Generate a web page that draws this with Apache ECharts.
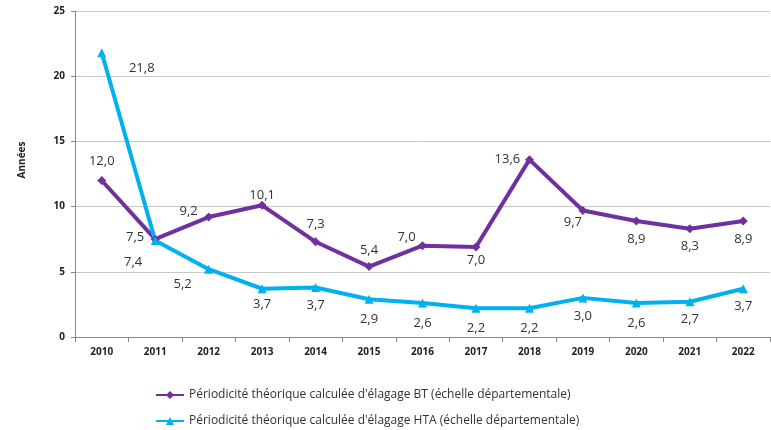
<!DOCTYPE html>
<html>
<head>
<meta charset="utf-8">
<script src="https://cdn.jsdelivr.net/npm/echarts@6/dist/echarts.min.js"></script>
<style>
  html, body { margin: 0; padding: 0; background: #fff; }
  #chart { width: 771px; height: 430px; }
</style>
</head>
<body>
<div id="chart"></div>
<script>
const years = ['2010', '2011', '2012', '2013', '2014', '2015', '2016', '2017', '2018', '2019', '2020', '2021', '2022'];
const btValues = [12.0, 7.5, 9.2, 10.1, 7.3, 5.4, 7.0, 6.9, 13.6, 9.7, 8.9, 8.3, 8.9];
const btLabels = ['12,0', '7,5', '9,2', '10,1', '7,3', '5,4', '7,0', '7,0', '13,6', '9,7', '8,9', '8,3', '8,9'];
const htaValues = [21.8, 7.4, 5.2, 3.7, 3.8, 2.9, 2.6, 2.2, 2.2, 3.0, 2.6, 2.7, 3.7];
const htaLabels = ['21,8', '7,4', '5,2', '3,7', '3,7', '2,9', '2,6', '2,2', '2,2', '3,0', '2,6', '2,7', '3,7'];
const yTicks = [0, 5, 10, 15, 20, 25];

// label placement per point, [dx, dy] offsets
const btOffsets = [[0, -19], [-20, -2], [-20, -6], [0, -10], [0, -18], [0, -16], [-16, -8], [0, 13], [-22, 0], [-10, 12], [0, 18], [0, 18], [0, 18]];
const htaOffsets = [[40, 16], [-22, 22], [-26, 15], [0, 16], [0, 18], [0, 20], [0, 20], [0, 20], [0, 20], [0, 18], [0, 20], [0, 18], [0, 18]];

const chart = echarts.init(document.getElementById('chart'));
const font = '"Open Sans", "Liberation Sans", sans-serif';

function buildData(values, labels, offsets) {
  return values.map((v, i) => ({
    value: v,
    label: { formatter: labels[i], offset: offsets[i] }
  }));
}

chart.setOption({
  animation: false,
  textStyle: { fontFamily: font },
  grid: { left: 75, right: 1, top: 11, bottom: 93 },
  legend: {
    orient: 'vertical',
    left: 155,
    top: 389,
    height: 41,
    padding: 0,
    itemWidth: 28,
    itemHeight: 10,
    itemGap: 14,
    textStyle: { fontSize: 12, color: '#333', fontFamily: font },
    data: [
      'Périodicité théorique calculée d\'élagage BT (échelle départementale)',
      'Périodicité théorique calculée d\'élagage HTA (échelle départementale)'
    ]
  },
  xAxis: {
    type: 'category',
    data: years,
    boundaryGap: true,
    axisLine: { lineStyle: { color: '#888' } },
    axisTick: { show: true, lineStyle: { color: '#888' } },
    axisLabel: { fontSize: 10, fontWeight: 'bold', color: '#222', margin: 10 }
  },
  yAxis: {
    type: 'value',
    min: yTicks[0],
    max: yTicks[yTicks.length - 1],
    interval: 5,
    name: 'Années',
    nameLocation: 'middle',
    nameRotate: 90,
    nameGap: 48,
    nameTextStyle: { fontSize: 10, fontWeight: 'bold', color: '#222', padding: [0, 0, 0, 28] },
    axisLine: { show: true, lineStyle: { color: '#888' } },
    axisTick: { show: true, length: 4, lineStyle: { color: '#888' } },
    axisLabel: { fontSize: 10, fontWeight: 'bold', color: '#222', margin: 10 },
    splitLine: { lineStyle: { color: '#c8c8c8', width: 1 } }
  },
  series: [
    {
      name: 'Périodicité théorique calculée d\'élagage BT (échelle départementale)',
      type: 'line',
      data: buildData(btValues, btLabels, btOffsets),
      color: '#7030A0',
      symbol: 'diamond',
      symbolSize: 9,
      lineStyle: { width: 4 },
      label: { show: true, position: 'inside', fontSize: 13, color: '#333' }
    },
    {
      name: 'Périodicité théorique calculée d\'élagage HTA (échelle départementale)',
      type: 'line',
      data: buildData(htaValues, htaLabels, htaOffsets),
      color: '#00B0F0',
      symbol: 'triangle',
      symbolSize: 9,
      lineStyle: { width: 4 },
      label: { show: true, position: 'inside', fontSize: 13, color: '#333' }
    }
  ]
});
</script>
</body>
</html>
